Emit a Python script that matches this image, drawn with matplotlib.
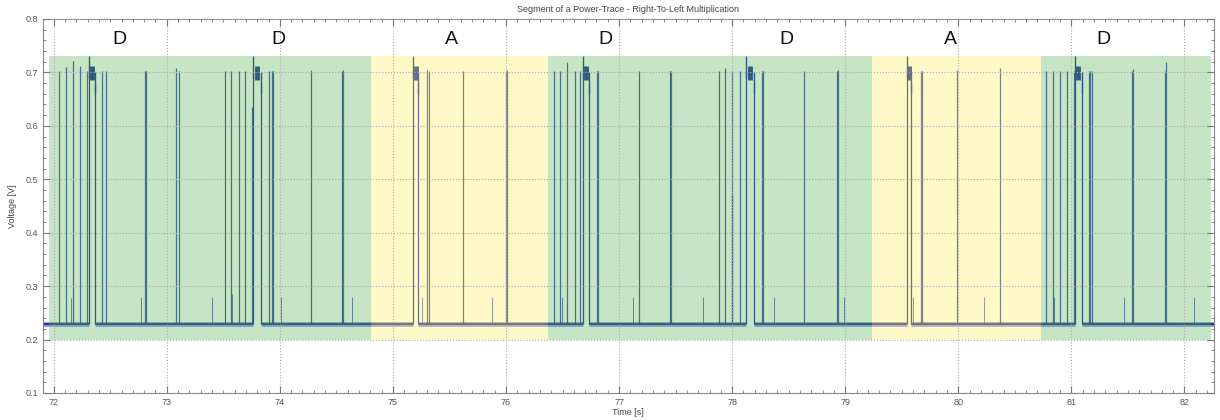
import matplotlib
matplotlib.use("Agg")
import matplotlib.pyplot as plt
from matplotlib.ticker import MultipleLocator

plt.rcParams['font.family'] = ['Liberation Sans', 'DejaVu Sans']

# ---------------- data ----------------
x_range = [71.905, 82.26]
baseline = 0.229

# region boundaries and colours (D = green, A = yellow)
region_edges = [71.96, 74.81, 76.37, 79.24, 80.73, 82.23]
region_kind = ['D', 'A', 'D', 'A', 'D']

# operation labels
label_t = [72.58, 73.99, 75.52, 76.88, 78.48, 79.93, 81.28]
label_text = ['D', 'D', 'A', 'D', 'D', 'A', 'D']

# tall spikes (reach ~0.70 V)
tall_t = [72.047, 72.109, 72.171, 72.233, 72.298, 72.427, 72.462, 72.806, 72.815,
          73.085, 73.108, 73.518, 73.571, 73.636, 73.695, 73.906, 73.93, 73.936,
          74.275, 74.552, 74.562, 75.298, 75.32, 75.62, 76.004, 76.012,
          76.42, 76.474, 76.538, 76.606, 76.656, 76.802, 76.812, 77.178, 77.452, 77.46,
          77.883, 77.939, 77.997, 78.065, 78.265, 78.275, 78.636, 78.925, 78.935,
          79.667, 79.677, 79.987, 80.37, 80.777, 80.84, 80.898, 80.963, 81.025,
          81.156, 81.166, 81.184, 81.538, 81.548, 81.828, 81.838]
tall_peak = [0.703, 0.71, 0.722, 0.712, 0.703, 0.703, 0.703, 0.703, 0.703,
             0.708, 0.703, 0.703, 0.703, 0.703, 0.703, 0.703, 0.703, 0.703,
             0.705, 0.703, 0.705, 0.705, 0.703, 0.703, 0.703, 0.705,
             0.703, 0.703, 0.72, 0.703, 0.703, 0.703, 0.703, 0.703, 0.703, 0.703,
             0.703, 0.708, 0.703, 0.703, 0.703, 0.703, 0.703, 0.703, 0.705,
             0.703, 0.703, 0.705, 0.708, 0.703, 0.703, 0.703, 0.703, 0.703,
             0.703, 0.703, 0.703, 0.703, 0.706, 0.703, 0.72]

# partial spikes
mid_t = [73.757, 77.997]
mid_peak = [0.636, 0.47]

# small spikes (reach ~0.28 V)
small_t = [72.156, 72.775, 73.397, 73.574, 74.013, 74.638, 75.257, 75.877, 76.494,
           77.122, 77.741, 78.37, 78.99, 79.598, 80.229, 80.842, 81.466, 82.088]
small_peak = [0.278, 0.28, 0.28, 0.285, 0.28, 0.28, 0.28, 0.28, 0.28,
              0.28, 0.28, 0.28, 0.28, 0.28, 0.28, 0.28, 0.28, 0.28]

# bursts (baseline gap, trace stays near 0.70 V)
burst_start = [72.31, 73.765, 75.178, 76.683, 78.123, 79.545, 81.03]
burst_end = [72.362, 73.836, 75.225, 76.73, 78.19, 79.58, 81.09]
burst_level = 0.70

# ---------------- styles ----------------
line_col = '#1a2a96'
region_col = {'D': '#5ab75a', 'A': '#fff062'}
region_alpha = 0.35

fig = plt.figure(figsize=(12.2, 4.2), dpi=100)
ax = fig.add_axes([0.0352, 0.0643, 0.9598, 0.8905])

# baseline segments between bursts
seg_start = [x_range[0]] + burst_end
seg_end = burst_start + [x_range[1]]
ax.hlines([baseline] * len(seg_start), seg_start, seg_end, colors=line_col,
          linewidth=3.4, alpha=0.5, zorder=1)
ax.hlines([baseline] * len(seg_start), seg_start, seg_end, colors=line_col,
          linewidth=1.3, zorder=1)

# spikes
ax.vlines(tall_t, baseline, tall_peak, colors=line_col, linewidth=0.9, alpha=0.85, zorder=1)
ax.vlines(mid_t, baseline, mid_peak, colors=line_col, linewidth=0.9, alpha=0.85, zorder=1)
ax.vlines(small_t, baseline, small_peak, colors=line_col, linewidth=0.7, alpha=0.7, zorder=1)

# bursts
ax.vlines(burst_start, baseline, burst_level, colors=line_col, linewidth=0.9, zorder=1)
ax.vlines(burst_end, baseline, burst_level - 0.02, colors=line_col, linewidth=0.9, zorder=1)
burst_mid = [(s + e) / 2 for s, e in zip(burst_start, burst_end)]
ax.vlines(burst_mid, burst_level - 0.015, burst_level + 0.012, colors=line_col,
          linewidth=3.5, zorder=1)
ax.vlines(burst_start, burst_level - 0.01, burst_level + 0.03, colors=line_col,
          linewidth=1.0, zorder=1)
ax.vlines(burst_end, burst_level - 0.04, burst_level, colors=line_col,
          linewidth=1.0, zorder=1)

# shaded regions drawn over the trace
for x0, x1, k in zip(region_edges[:-1], region_edges[1:], region_kind):
    ax.axvspan(x0, x1, ymin=(0.2 - 0.1) / 0.7, ymax=(0.73 - 0.1) / 0.7,
               facecolor=region_col[k], alpha=region_alpha, edgecolor='none', zorder=2)

for t, s in zip(label_t, label_text):
    ax.text(t, 0.762, s, ha='center', va='center', fontsize=14, color='#111111', zorder=4)

ax.set_xlim(*x_range)
ax.set_ylim(0.1, 0.8)
ax.xaxis.set_major_locator(MultipleLocator(1))
ax.yaxis.set_major_locator(MultipleLocator(0.1))
ax.xaxis.set_minor_locator(MultipleLocator(0.1))
ax.yaxis.set_minor_locator(MultipleLocator(0.02))
ax.set_axisbelow(False)
ax.grid(True, which='major', linestyle=':', color='#aaaaaa', linewidth=0.8, zorder=3)
ax.tick_params(which='both', direction='in', top=True, right=True, colors='#777777',
               labelcolor='#555555', labelsize=6.5)
ax.tick_params(which='major', length=5)
ax.tick_params(which='minor', length=2)
for sp in ax.spines.values():
    sp.set_color('#888888')
    sp.set_linewidth(0.8)

ax.set_title('Segment of a Power-Trace - Right-To-Left Multiplication', fontsize=6.5,
             color='#444444', pad=5)
ax.set_xlabel('Time [s]', fontsize=6.5, color='#444444', labelpad=1)
ax.set_ylabel('Voltage [V]', fontsize=6.5, color='#444444', labelpad=6)

fig.savefig('out.png', dpi=100)
